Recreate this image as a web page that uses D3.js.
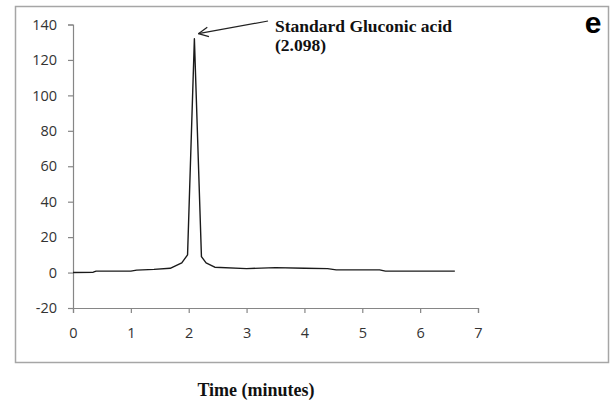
<!DOCTYPE html>
<html>
<head>
<meta charset="utf-8">
<script src="https://cdn.jsdelivr.net/npm/d3@7"></script>
<style>
  body { margin: 0; background: #fff; }
  svg { display: block; }
</style>
</head>
<body>
<svg></svg>
<script>
let width = 613,
height = 406;

// chromatogram trace, time in minutes vs detector response
let times  = [0, 0.35, 0.4, 1.0, 1.1, 1.4, 1.68, 1.88, 1.98, 2.098, 2.22, 2.3, 2.45, 3.0, 3.5, 4.0, 4.4, 4.55, 5.3, 5.4, 6.6];
let values = [0, 0.2, 0.8, 0.8, 1.4, 1.8, 2.4, 5.5, 10, 132, 9, 5.5, 3, 2.2, 2.8, 2.4, 2.2, 1.5, 1.5, 0.8, 0.8];
let xTicks = [0, 1, 2, 3, 4, 5, 6, 7];
let yTicks = [-20, 0, 20, 40, 60, 80, 100, 120, 140];
let peakTime = 2.098, peakValue = 132;
let peakLabel = ["Standard Gluconic acid", "(2.098)"];

let data = times.map((t, i) => ({x: t, y: values[i]}));

let svg = d3.select("svg")
  .attr("width", width)
  .attr("height", height);

// outer frame
svg.append("rect")
  .attr("x", 15.5).attr("y", 6.5)
  .attr("width", 593).attr("height", 356)
  .attr("fill", "none")
  .attr("stroke", "#a6a6a6")
  .attr("stroke-width", 1.5);

let xScale = d3.scaleLinear().domain([0, 7]).range([73, 478]);
let yScale = d3.scaleLinear().domain([-20, 140]).range([308, 24.5]);

let xAxis = d3.axisBottom(xScale).tickValues(xTicks).tickSize(5).tickPadding(15).tickFormat(d => d);
let yAxis = d3.axisLeft(yScale).tickValues(yTicks).tickSize(5).tickPadding(11).tickFormat(d => d);

let gx = svg.append("g")
  .attr("transform", `translate(0, ${yScale(-20)})`)
  .call(xAxis);
let gy = svg.append("g")
  .attr("transform", `translate(${xScale(0)}, 0)`)
  .call(yAxis);

[gx, gy].forEach(g => {
  g.select(".domain").attr("stroke", "#868686").attr("stroke-width", 1.2);
  g.selectAll(".tick line").attr("stroke", "#868686").attr("stroke-width", 1.2);
  g.selectAll(".tick text")
    .attr("fill", "#333")
    .style("font-family", "'Open Sans', 'DejaVu Sans', sans-serif")
    .style("font-size", "14.5px");
});

let line = d3.line()
  .x(d => xScale(d.x))
  .y(d => yScale(d.y));

svg.append("path")
  .datum(data)
  .attr("d", line)
  .attr("fill", "none")
  .attr("stroke", "#1a1a1a")
  .attr("stroke-width", 1.4)
  .attr("stroke-linejoin", "round");

// annotation arrow pointing at the peak
let tipX = xScale(peakTime) + 4, tipY = yScale(peakValue) - 5;
let tailX = 268, tailY = 21;
svg.append("line")
  .attr("x1", tailX).attr("y1", tailY)
  .attr("x2", tipX).attr("y2", tipY)
  .attr("stroke", "#222").attr("stroke-width", 1.2);
let ang = Math.atan2(tailY - tipY, tailX - tipX);
[0.45, -0.45].forEach(a => {
  svg.append("line")
    .attr("x1", tipX).attr("y1", tipY)
    .attr("x2", tipX + 11 * Math.cos(ang + a))
    .attr("y2", tipY + 11 * Math.sin(ang + a))
    .attr("stroke", "#222").attr("stroke-width", 1.2);
});

svg.append("g")
  .selectAll("text")
  .data(peakLabel)
  .enter()
  .append("text")
  .attr("x", 275)
  .attr("y", (d, i) => 32 + i * 19)
  .attr("fill", "#111")
  .style("font-family", "'Liberation Serif', 'Times New Roman', serif")
  .style("font-weight", "bold")
  .style("font-size", "17.5px")
  .text(d => d);

svg.append("text")
  .attr("x", 256).attr("y", 396)
  .attr("text-anchor", "middle")
  .attr("fill", "#111")
  .style("font-family", "'Liberation Serif', 'Times New Roman', serif")
  .style("font-weight", "bold")
  .style("font-size", "18px")
  .text("Time (minutes)");

svg.append("text")
  .attr("x", 593).attr("y", 33)
  .attr("text-anchor", "middle")
  .attr("fill", "#000")
  .style("font-family", "'Liberation Sans', Arial, sans-serif")
  .style("font-weight", "bold")
  .style("font-size", "30px")
  .text("e");
</script>
</body>
</html>
